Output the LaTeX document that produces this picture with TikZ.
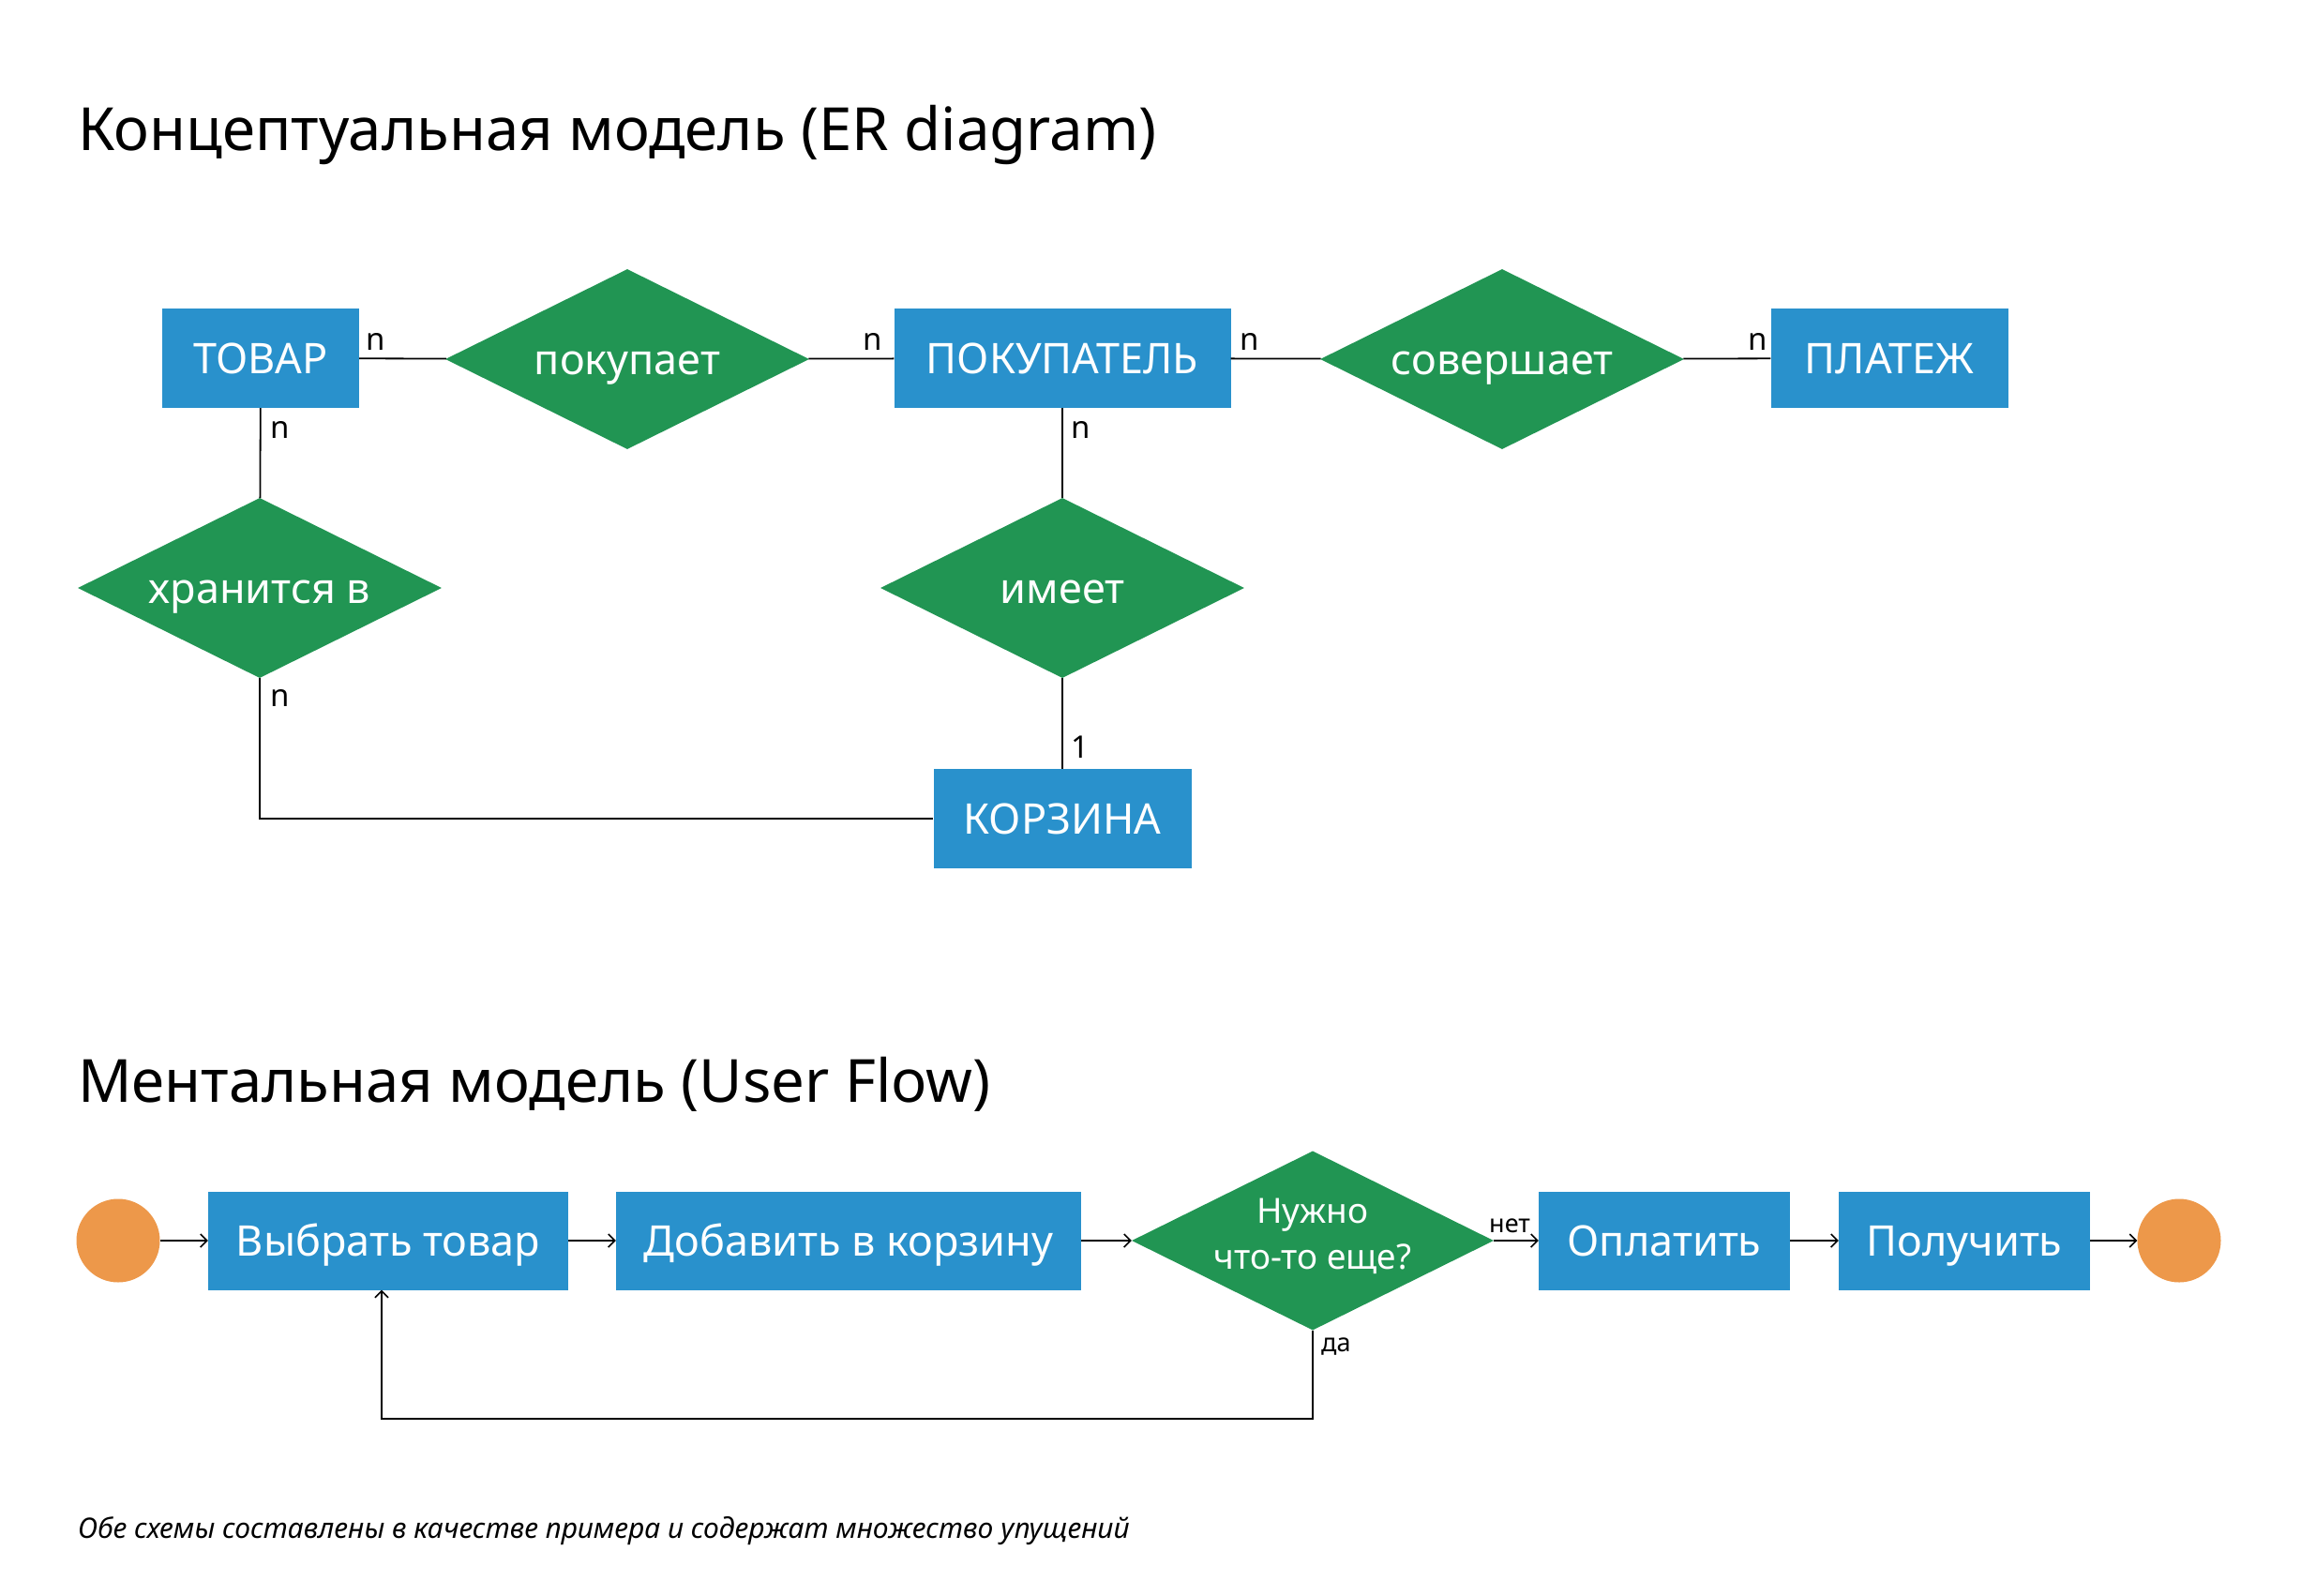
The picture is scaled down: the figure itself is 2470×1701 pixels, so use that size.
\documentclass[tikz,border=0pt]{standalone}
\usepackage{fontspec}
\setmainfont{Noto Sans}
\usetikzlibrary{shapes.geometric,arrows.meta}
\definecolor{erblue}{RGB}{41,145,204}
\definecolor{ergreen}{RGB}{33,149,83}
\definecolor{erorange}{RGB}{237,152,74}
\begin{document}
\begin{tikzpicture}[x=1pt,y=-1pt,
  ent/.style={rectangle, fill=erblue, text=white, inner sep=0pt, minimum height=106pt, text height=33pt, text depth=0pt, font=\fontsize{45}{50}\selectfont},
  rel/.style={diamond, fill=ergreen, inner sep=0pt, minimum width=388pt, minimum height=192pt},
  reltext/.style={text=white, inner sep=0pt, anchor=base, font=\fontsize{45}{50}\selectfont},
  dtext/.style={text=white, inner sep=0pt, anchor=base, font=\fontsize{37}{44}\selectfont},
  card/.style={anchor=base west, inner sep=0pt, font=\fontsize{33}{38}\selectfont},
  small/.style={anchor=base west, inner sep=0pt, font=\fontsize{27}{30}\selectfont},
  conn/.style={line width=1.8pt},
  flow/.style={line width=1.8pt, -{Straight Barb[length=7pt,width=14pt,line width=1.5pt]}},
  term/.style={circle, fill=erorange, minimum size=89pt, inner sep=0pt},
  heading/.style={anchor=base west, inner sep=0pt, font=\fontsize{63.5}{70}\selectfont}
]
\useasboundingbox[fill=white] (0,0) rectangle (2470,1701);

% titles
\node[heading] (t1) at (83,160) {Концептуальная модель (ER diagram)};
\node[heading] (t2) at (83,1175) {Ментальная модель (User Flow)};

% ER diagram
\node[ent, minimum width=210pt] (tovar) at (278,382) {ТОВАР};
\node[rel] (pok) at (669,383) {};
\node[reltext] (pokt) at ([yshift=-16pt]pok.center) {покупает};
\node[ent, minimum width=359pt] (buyer) at (1133,382) {ПОКУПАТЕЛЬ};
\node[rel] (sov) at (1602,383) {};
\node[reltext] (sovt) at ([yshift=-16pt]sov.center) {совершает};
\node[ent, minimum width=253pt] (plat) at (2015,382) {ПЛАТЕЖ};
\node[rel] (hran) at (277,627) {};
\node[reltext] (hrant) at ([yshift=-16pt]hran.center) {хранится в};
\node[rel] (imeet) at (1133,627) {};
\node[reltext] (imeett) at ([yshift=-16pt]imeet.center) {имеет};
\node[ent, minimum width=275pt] (korz) at (1133,873) {КОРЗИНА};

\draw[conn] (tovar) -- (pok);
\draw[conn] (pok) -- (buyer);
\draw[conn] (buyer) -- (sov);
\draw[conn] (sov) -- (plat);
\draw[conn] (tovar) -- (hran);
\draw[conn] (buyer) -- (imeet);
\draw[conn] (imeet) -- (korz);
\draw[conn] (hran.south) |- (korz.west);

\node[card] (c1) at (390,373) {n};
\node[card] (c2) at (920,373) {n};
\node[card] (c3) at (1322,373) {n};
\node[card] (c4) at (1864,373) {n};
\node[card] (c5) at (288,467) {n};
\node[card] (c6) at (288,753) {n};
\node[card] (c7) at (1142,467) {n};
\node[card] (c8) at (1142,808) {1};

% User flow
\node[term] (start) at (126,1323) {};
\node[ent, minimum width=384pt, minimum height=105pt] (vyb) at (414,1323) {Выбрать товар};
\node[ent, minimum width=496pt, minimum height=105pt] (dob) at (905,1323) {Добавить в корзину};
\node[rel, minimum width=386pt, minimum height=191pt] (need) at (1400,1323) {};
\node[dtext] (needt1) at ([yshift=19pt]need.center) {Нужно};
\node[dtext] (needt2) at ([yshift=-30pt]need.center) {что-то еще?};
\node[ent, minimum width=268pt, minimum height=105pt] (opl) at (1775,1323) {Оплатить};
\node[ent, minimum width=268pt, minimum height=105pt] (pol) at (2095,1323) {Получить};
\node[term] (end) at (2324,1323) {};

\draw[flow] (start) -- (vyb);
\draw[flow] (vyb) -- (dob);
\draw[flow] (dob) -- (need);
\draw[flow] (need) -- (opl);
\draw[flow] (opl) -- (pol);
\draw[flow] (pol) -- (end);
\coordinate (loopend) at ([xshift=-7pt]vyb.south);
\draw[flow] (need.south) -- ++(0,94) -| (loopend);

\node[small] (net) at (1588,1314) {нет};
\node[small] (da) at (1409,1441) {да};

\node[anchor=base west, inner sep=0pt, font=\itshape\fontsize{30}{34}\selectfont] (foot) at (83,1640) {Обе схемы составлены в качестве примера и содержат множество упущений};
\end{tikzpicture}
\end{document}
